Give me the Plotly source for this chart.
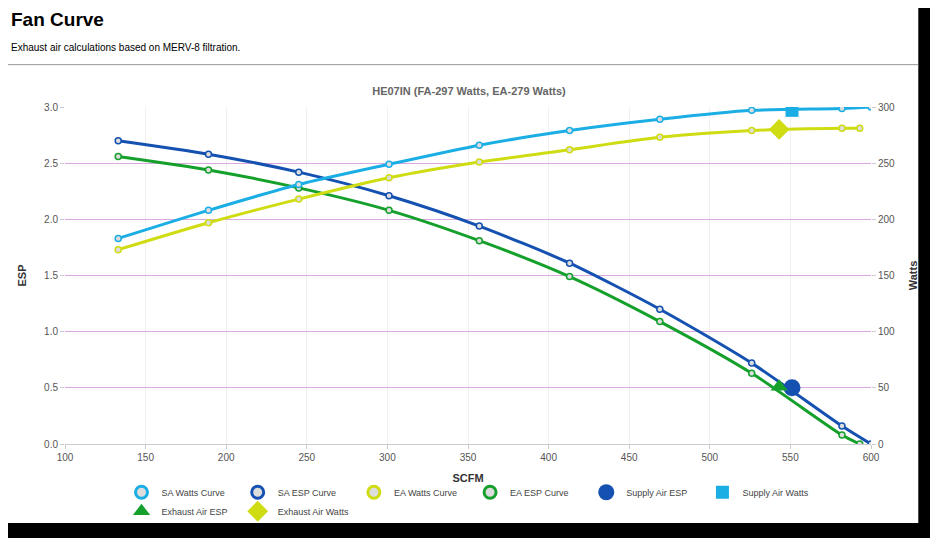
import plotly.graph_objects as go

# SCFM points
sa_x = [133, 189, 245, 301, 357, 413, 469, 526, 582, 600]
ea_x = [133, 189, 245, 301, 357, 413, 469, 526, 582, 593]
sa_watts = [183, 208, 231, 249, 266, 279, 289, 297, 298.6, 300]
sa_esp = [2.70, 2.58, 2.42, 2.21, 1.94, 1.61, 1.20, 0.72, 0.16, 0]
ea_watts = [173, 197, 218, 237, 251, 262, 273, 279, 281, 281]
ea_esp = [2.56, 2.44, 2.28, 2.08, 1.81, 1.49, 1.09, 0.63, 0.08, 0]

supply_pt = (551, 0.5, 297)
exhaust_pt = (543, 0.51, 280)

SA_W, SA_E, EA_W, EA_E = "#1aaee5", "#1451b0", "#cfdc12", "#15a02c"

# page body has an 8px margin, so the figure is drawn 8px in from the window edge
OFF = 8
W, H = 938 - 2 * OFF, 546 - 2 * OFF
L, R, T, B = 65 - OFF, 55 - OFF, 107 - OFF, 89 - OFF
pw, ph = W - L - R, H - T - B


def px(x):
    return (x - OFF - L) / pw


def py(y):
    return (H - B - (y - OFF)) / ph


fig = go.Figure()


def curve(x, y, color, name, axis):
    fig.add_trace(go.Scatter(
        x=x, y=y, name=name, yaxis=axis, mode="lines+markers", showlegend=False,
        line=dict(color=color, width=3, shape="spline", smoothing=0.7),
        marker=dict(size=6, color="#dddddd", line=dict(color=color, width=1.5))))
    fig.add_trace(go.Scatter(
        x=[None], y=[None], name=name, mode="markers",
        marker=dict(size=12, color="#dddddd", line=dict(color=color, width=3))))


curve(sa_x, sa_watts, SA_W, "SA Watts Curve", "y2")
curve(sa_x, sa_esp, SA_E, "SA ESP Curve", "y")
curve(ea_x, ea_watts, EA_W, "EA Watts Curve", "y2")
curve(ea_x, ea_esp, EA_E, "EA ESP Curve", "y")

fig.add_trace(go.Scatter(x=[supply_pt[0]], y=[supply_pt[1]], name="Supply Air ESP", mode="markers",
                         marker=dict(symbol="circle", size=17, color=SA_E)))
fig.add_trace(go.Scatter(x=[supply_pt[0]], y=[supply_pt[2]], name="Supply Air Watts", mode="markers",
                         yaxis="y2", marker=dict(symbol="square", size=13, color=SA_W)))
fig.add_trace(go.Scatter(x=[exhaust_pt[0]], y=[exhaust_pt[1]], name="Exhaust Air ESP", mode="markers",
                         marker=dict(symbol="triangle-up", size=15, color=EA_E)))
fig.add_trace(go.Scatter(x=[exhaust_pt[0]], y=[exhaust_pt[2]], name="Exhaust Air Watts", mode="markers",
                         yaxis="y2", marker=dict(symbol="diamond", size=16, color=EA_W)))

fig.update_layout(
    width=W, height=H, margin=dict(l=L, r=R, t=T, b=B),
    paper_bgcolor="black", plot_bgcolor="white",
    font=dict(family="Arial, Liberation Sans", size=10, color="#555555"),
    title=dict(text="<b>HE07IN (FA-297 Watts, EA-279 Watts)</b>", x=px(474), xanchor="center",
               y=1 - (91 - OFF) / H, yanchor="middle", font=dict(size=11, color="#666666")),
    xaxis=dict(range=[100, 600], dtick=50, showgrid=True, gridcolor="#f0f0f0",
               title=dict(text="<b>SCFM</b>", font=dict(size=11, color="#333333"), standoff=12),
               ticks="outside", ticklen=4, tickcolor="#cccccc", linecolor="#cccccc", zeroline=False),
    yaxis=dict(range=[0, 3], dtick=0.5, tickformat=".1f", gridcolor="#d9a8e0", zeroline=False,
               title=dict(text="<b>ESP</b>", font=dict(size=11, color="#333333")),
               ticks="outside", ticklen=4, tickcolor="#cccccc"),
    yaxis2=dict(range=[0, 300], dtick=50, overlaying="y", side="right", showgrid=False, zeroline=False,
                title=dict(text="<b>Watts</b>", font=dict(size=11, color="#333333")),
                ticks="outside", ticklen=4, tickcolor="#cccccc"),
    legend=dict(orientation="h", x=px(474), xanchor="center", y=py(517), yanchor="middle",
                font=dict(size=9, color="#444444"), itemwidth=30, bgcolor="rgba(0,0,0,0)",
                tracegroupgap=0),
    shapes=[
        dict(type="rect", xref="paper", yref="paper", layer="below",
             x0=px(4), x1=px(931), y0=py(539), y1=py(2),
             fillcolor="white", line=dict(width=0)),
        dict(type="line", xref="paper", yref="paper",
             x0=px(4), x1=px(931), y0=py(63), y1=py(63), line=dict(color="#999999", width=1)),
    ],
    annotations=[
        dict(text="<b>Fan Curve</b>", xref="paper", yref="paper", x=px(8), y=py(16),
             xanchor="left", yanchor="middle", showarrow=False,
             font=dict(size=19, color="black", family="Liberation Sans, Arial")),
        dict(text="Exhaust air calculations based on MERV-8 filtration.", xref="paper", yref="paper",
             x=px(8), y=py(45), xanchor="left", yanchor="middle", showarrow=False,
             font=dict(size=10, color="black", family="Liberation Sans, Arial")),
    ],
)

fig.write_html("out.html")
